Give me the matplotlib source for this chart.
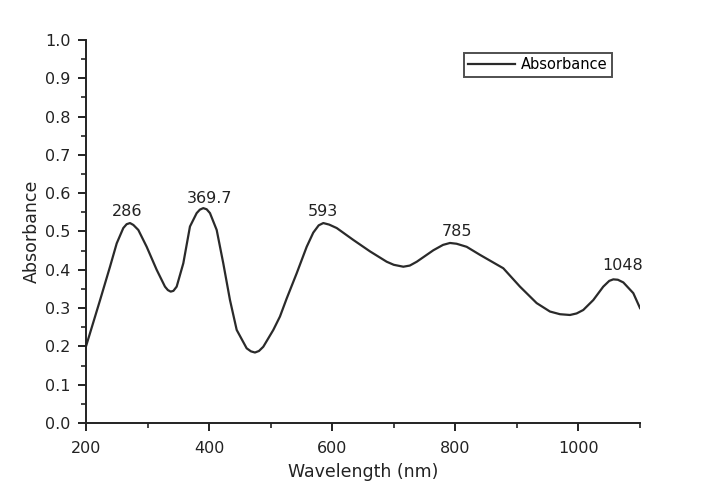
import matplotlib.pyplot as plt
from matplotlib.ticker import MultipleLocator

# values
wavelength = [200, 222.7, 239.0, 249.9, 260.6, 266.0, 271.5, 277.0, 285.0, 298.6,
              314.8, 328.3, 333.0, 337.6, 342.0, 347.3, 358.1, 368.9, 379.8, 385.0,
              390.5, 396.0, 401.4, 412.3, 423.0, 433.9, 444.8, 461.0, 468.0, 474.5,
              481.0, 488.0, 504.3, 515.1, 526.0, 542.3, 558.5, 569.2, 578.0, 585.5,
              595.0, 607.3, 634.2, 661.4, 688.5, 700.0, 715.5, 726.0, 737.3, 764.3,
              780.0, 791.3, 802.0, 818.4, 840.0, 877.9, 905.0, 932.1, 953.7, 970.0,
              986.2, 997.0, 1007.8, 1024.1, 1040.3, 1050.0, 1056.6, 1064.0, 1072.9,
              1089.1, 1100]
absorbance = [0.200, 0.320, 0.408, 0.469, 0.509, 0.519, 0.522, 0.517, 0.504, 0.460,
              0.400, 0.356, 0.347, 0.343, 0.345, 0.356, 0.417, 0.513, 0.548, 0.557,
              0.561, 0.558, 0.548, 0.504, 0.417, 0.321, 0.243, 0.195, 0.187, 0.184,
              0.188, 0.199, 0.243, 0.278, 0.325, 0.391, 0.460, 0.497, 0.516, 0.522,
              0.518, 0.509, 0.478, 0.448, 0.421, 0.413, 0.408, 0.411, 0.421, 0.451,
              0.465, 0.470, 0.468, 0.460, 0.439, 0.404, 0.356, 0.313, 0.291, 0.284,
              0.282, 0.286, 0.295, 0.321, 0.356, 0.371, 0.375, 0.374, 0.367,
              0.339, 0.300]

peak_labels = ["286", "369.7", "593", "785", "1048"]
peak_x = [266.6, 401.4, 585.0, 802.7, 1072.0]
peak_y = [0.553, 0.587, 0.553, 0.499, 0.410]

fig = plt.figure(figsize=(7.02, 4.96), dpi=100)
ax = fig.add_axes([0.1225, 0.1472, 0.7892, 0.7722])

ax.plot(wavelength, absorbance, color="#2a2a2a", linewidth=1.6,
        solid_joinstyle="round", label="Absorbance")

for txt, x, y in zip(peak_labels, peak_x, peak_y):
    ax.text(x, y, txt, ha="center", va="center", fontsize=11.5, color="#222222")

ax.set_xlim(200, 1100)
ax.set_ylim(0, 1.0)
ax.xaxis.set_major_locator(MultipleLocator(200))
ax.xaxis.set_minor_locator(MultipleLocator(100))
ax.yaxis.set_major_locator(MultipleLocator(0.1))
ax.yaxis.set_minor_locator(MultipleLocator(0.05))
ax.yaxis.set_major_formatter(plt.FormatStrFormatter("%.1f"))

for s in ["top", "right"]:
    ax.spines[s].set_visible(False)
for s in ["left", "bottom"]:
    ax.spines[s].set_linewidth(1.4)
    ax.spines[s].set_color("#222222")

ax.tick_params(which="major", direction="out", length=6, width=1.4, labelsize=11.5,
               colors="#222222", pad=5)
ax.tick_params(which="minor", direction="out", length=3.5, width=1.2, colors="#222222")
ax.tick_params(axis="x", which="major", pad=7)

ax.set_xlabel("Wavelength (nm)", fontsize=12.5, color="#222222", labelpad=5)
ax.set_ylabel("Absorbance", fontsize=12.5, color="#222222", labelpad=3)

leg = ax.legend(loc="upper right", bbox_to_anchor=(0.949, 0.966), fancybox=False,
                frameon=True, edgecolor="#222222", fontsize=10.5, handlelength=3.2,
                borderpad=0.3, handletextpad=0.4, borderaxespad=0)
leg.get_frame().set_linewidth(1.4)

fig.savefig("out.png", dpi=100)
